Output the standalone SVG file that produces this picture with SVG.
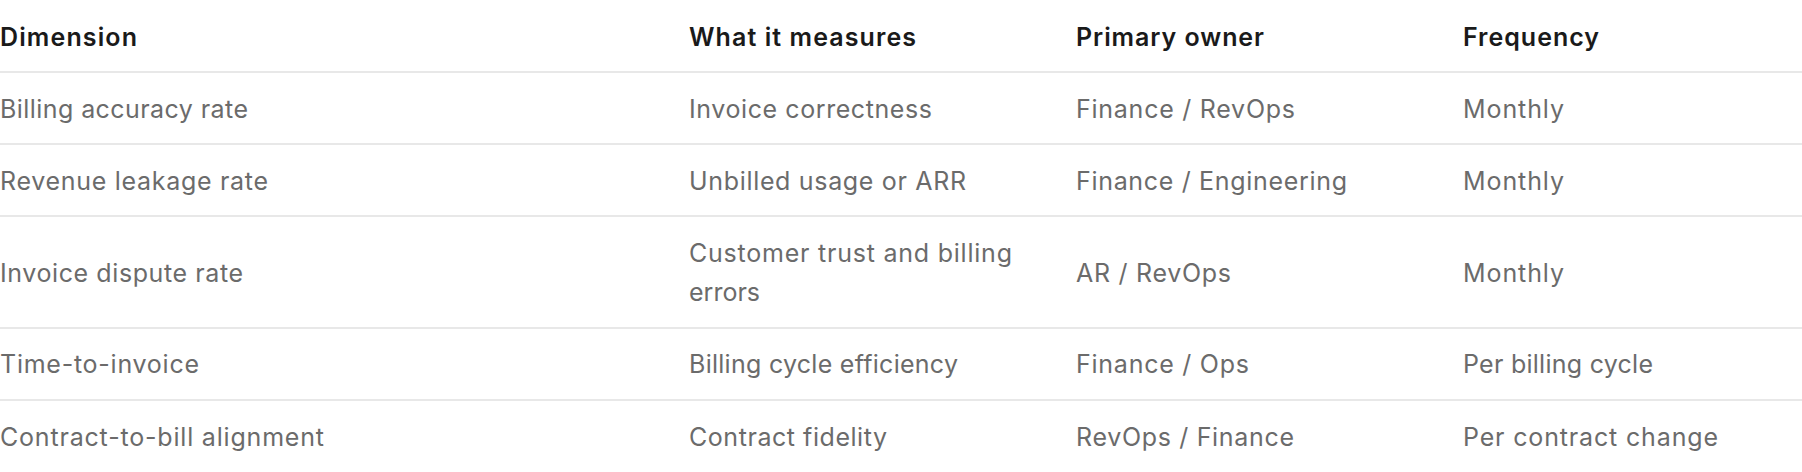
<svg xmlns="http://www.w3.org/2000/svg" width="1802" height="472" viewBox="0 0 1802 472">
<style>
.h{font-family:Inter,"Liberation Sans",sans-serif;font-size:25px;font-weight:600;fill:#1a1a1a}
.b{font-family:Inter,"Liberation Sans",sans-serif;font-size:25px;font-weight:400;fill:#6b6b6b}
.ln{stroke:#e8e8e8;stroke-width:2}
</style>
<rect width="1802" height="472" fill="#ffffff"/>
<g id="rules">
<line class="ln" x1="0" y1="72" x2="1802" y2="72"/>
<line class="ln" x1="0" y1="144" x2="1802" y2="144"/>
<line class="ln" x1="0" y1="216" x2="1802" y2="216"/>
<line class="ln" x1="0" y1="328" x2="1802" y2="328"/>
<line class="ln" x1="0" y1="400" x2="1802" y2="400"/>
</g>
<g id="header">
<text class="h" x="0" y="45.5" textLength="137" lengthAdjust="spacing">Dimension</text>
<text class="h" x="689" y="45.5" textLength="227" lengthAdjust="spacing">What it measures</text>
<text class="h" x="1076" y="45.5" textLength="188" lengthAdjust="spacing">Primary owner</text>
<text class="h" x="1463" y="45.5" textLength="136" lengthAdjust="spacing">Frequency</text>
</g>
<g id="row1">
<text class="b" x="0" y="117.5" textLength="248" lengthAdjust="spacing">Billing accuracy rate</text>
<text class="b" x="689" y="117.5" textLength="243" lengthAdjust="spacing">Invoice correctness</text>
<text class="b" x="1076" y="117.5" textLength="219" lengthAdjust="spacing">Finance / RevOps</text>
<text class="b" x="1463" y="117.5" textLength="101" lengthAdjust="spacing">Monthly</text>
</g>
<g id="row2">
<text class="b" x="0" y="189.5" textLength="268" lengthAdjust="spacing">Revenue leakage rate</text>
<text class="b" x="689" y="189.5" textLength="277" lengthAdjust="spacing">Unbilled usage or ARR</text>
<text class="b" x="1076" y="189.5" textLength="271" lengthAdjust="spacing">Finance / Engineering</text>
<text class="b" x="1463" y="189.5" textLength="101" lengthAdjust="spacing">Monthly</text>
</g>
<g id="row3">
<text class="b" x="0" y="281.5" textLength="243" lengthAdjust="spacing">Invoice dispute rate</text>
<text class="b" x="689" y="262" textLength="323" lengthAdjust="spacing">Customer trust and billing</text>
<text class="b" x="689" y="301" textLength="71" lengthAdjust="spacing">errors</text>
<text class="b" x="1076" y="281.5" textLength="155" lengthAdjust="spacing">AR / RevOps</text>
<text class="b" x="1463" y="281.5" textLength="101" lengthAdjust="spacing">Monthly</text>
</g>
<g id="row4">
<text class="b" x="0" y="373" textLength="199" lengthAdjust="spacing">Time-to-invoice</text>
<text class="b" x="689" y="373" textLength="269" lengthAdjust="spacing">Billing cycle efficiency</text>
<text class="b" x="1076" y="373" textLength="173" lengthAdjust="spacing">Finance / Ops</text>
<text class="b" x="1463" y="373" textLength="190" lengthAdjust="spacing">Per billing cycle</text>
</g>
<g id="row5">
<text class="b" x="0" y="445.5" textLength="324" lengthAdjust="spacing">Contract-to-bill alignment</text>
<text class="b" x="689" y="445.5" textLength="198" lengthAdjust="spacing">Contract fidelity</text>
<text class="b" x="1076" y="445.5" textLength="218" lengthAdjust="spacing">RevOps / Finance</text>
<text class="b" x="1463" y="445.5" textLength="255" lengthAdjust="spacing">Per contract change</text>
</g>
</svg>
